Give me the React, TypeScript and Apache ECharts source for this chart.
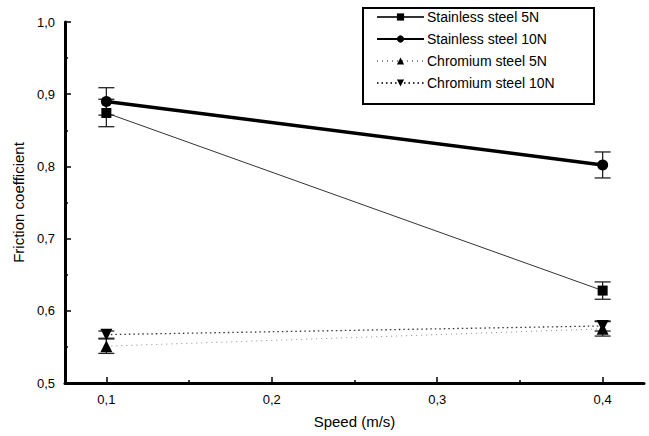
import React, { useEffect, useRef } from "react";
import * as echarts from "echarts";

const speeds = [0.1, 0.4];
const seriesNames = ["Stainless steel 5N", "Stainless steel 10N", "Chromium steel 5N", "Chromium steel 10N"];
const stainless5 = [0.874, 0.628];
const stainless5Err = [0.019, 0.012];
const stainless10 = [0.89, 0.802];
const stainless10Err = [0.019, 0.018];
const chromium5 = [0.551, 0.575];
const chromium5Err = [0.01, 0.01];
const chromium10 = [0.567, 0.579];
const chromium10Err = [0.005, 0.007];
const xLabels = [0.1, 0.2, 0.3, 0.4];
const xMinor = [0.15, 0.25, 0.35];

const fmt = (v: number) => v.toFixed(1).replace(".", ",");

export default function App() {
  const ref = useRef<HTMLDivElement>(null);
  useEffect(() => {
    const chart = echarts.init(ref.current!, null, { renderer: "svg" });
    const font = "Liberation Sans, Arial, sans-serif";
    const errData = (vals: number[], errs: number[]) => speeds.map((s, i) => [s, vals[i], errs[i]]);
    const errSeries = (vals: number[], errs: number[]) => ({
      type: "custom",
      xAxisIndex: 0,
      yAxisIndex: 0,
      silent: true,
      z: 1,
      data: errData(vals, errs),
      renderItem: (params: any, api: any) => {
        const x = api.value(0);
        const y = api.value(1);
        const e = api.value(2);
        const top = api.coord([x, y + e]);
        const bot = api.coord([x, y - e]);
        const hw = 8;
        const style = { stroke: "#222", lineWidth: 1.3 };
        return {
          type: "group",
          children: [
            { type: "line", shape: { x1: top[0], y1: top[1], x2: bot[0], y2: bot[1] }, style },
            { type: "line", shape: { x1: top[0] - hw, y1: top[1], x2: top[0] + hw, y2: top[1] }, style },
            { type: "line", shape: { x1: bot[0] - hw, y1: bot[1], x2: bot[0] + hw, y2: bot[1] }, style },
          ],
        };
      },
    });
    const pts = (vals: number[]) => speeds.map((s, i) => [s, vals[i]]);
    chart.setOption({
      animation: false,
      textStyle: { fontFamily: font },
      grid: { left: 65, right: 5, top: 22, bottom: 53 },
      graphic: [
        {
          type: "rect",
          z: 100,
          shape: { x: 363, y: 8, width: 231, height: 96 },
          style: { fill: "#fff", stroke: "#000", lineWidth: 2 },
        },
      ],
      legend: {
        orient: "vertical",
        left: 376,
        top: 10,
        z: 101,
        padding: 0,
        itemGap: 8,
        itemWidth: 47,
        itemHeight: 9,
        textStyle: { fontSize: 14, lineHeight: 14, color: "#000", fontFamily: font, padding: [0, 0, 0, -2] },
        data: seriesNames,
      },
      xAxis: [
        {
          type: "value",
          min: 0.075,
          max: 0.425,
          name: "Speed (m/s)",
          nameLocation: "middle",
          nameGap: 31,
          nameTextStyle: { fontSize: 15, color: "#000", fontFamily: font },
          splitLine: { show: false },
          axisLine: { show: true, lineStyle: { color: "#000", width: 3 } },
          axisTick: { show: true, inside: true, length: 6, lineStyle: { color: "#000", width: 1.5 }, customValues: xLabels },
          axisLabel: { color: "#000", fontSize: 13, margin: 10, formatter: fmt, customValues: xLabels },
        },
        {
          type: "value",
          min: 0.075,
          max: 0.425,
          position: "bottom",
          splitLine: { show: false },
          axisLine: { show: false },
          axisTick: { show: true, inside: true, length: 3, lineStyle: { color: "#000", width: 1.5 }, customValues: xMinor },
          axisLabel: { show: false, customValues: xMinor },
        },
      ],
      yAxis: {
        type: "value",
        min: 0.5,
        max: 1.0,
        interval: 0.1,
        name: "Friction coefficient",
        nameLocation: "middle",
        nameRotate: 90,
        nameGap: 39,
        nameTextStyle: { fontSize: 15, color: "#000", fontFamily: font },
        splitLine: { show: false },
        axisLine: { show: true, lineStyle: { color: "#000", width: 3 } },
        axisTick: { show: true, inside: true, length: 6, lineStyle: { color: "#000", width: 1.5 } },
        minorTick: { show: true, splitNumber: 2, length: 3, lineStyle: { color: "#000", width: 1.5 } },
        axisLabel: { color: "#000", fontSize: 13, margin: 10, formatter: fmt },
      },
      series: [
        errSeries(stainless5, stainless5Err),
        errSeries(stainless10, stainless10Err),
        errSeries(chromium5, chromium5Err),
        errSeries(chromium10, chromium10Err),
        {
          name: seriesNames[0],
          type: "line",
          data: pts(stainless5),
          symbol: "rect",
          symbolSize: 10,
          z: 3,
          itemStyle: { color: "#000" },
          lineStyle: { color: "#333", width: 1 },
        },
        {
          name: seriesNames[1],
          type: "line",
          data: pts(stainless10),
          symbol: "circle",
          symbolSize: 11,
          z: 3,
          itemStyle: { color: "#000" },
          lineStyle: { color: "#000", width: 3.5 },
        },
        {
          name: seriesNames[2],
          type: "line",
          data: pts(chromium5),
          symbol: "triangle",
          symbolSize: 12,
          z: 3,
          itemStyle: { color: "#000" },
          lineStyle: { color: "#888", width: 1, type: [1, 4] },
        },
        {
          name: seriesNames[3],
          type: "line",
          data: pts(chromium10),
          symbol: "triangle",
          symbolRotate: 180,
          symbolSize: 12,
          z: 3,
          itemStyle: { color: "#000" },
          lineStyle: { color: "#333", width: 1.3, type: [1.5, 3] },
        },
      ],
    });
    return () => chart.dispose();
  }, []);
  return <div ref={ref} style={{ width: 649, height: 436, position: "absolute", left: 0, top: 0 }} />;
}
